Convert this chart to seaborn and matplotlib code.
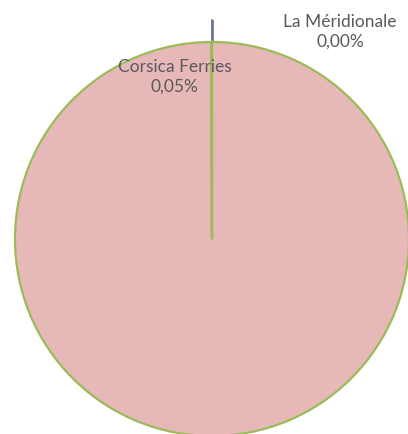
import matplotlib
matplotlib.use("Agg")
import matplotlib.pyplot as plt
import seaborn as sns

# slices in drawing order (clockwise from 12 o'clock)
companies = ["La Méridionale", "Autres", "Corsica Ferries"]
shares = [0.0001, 99.9499, 0.05]
share_labels = ["0,00%", "", "0,05%"]
fill_colors = ["#4F81BD", "#E6B9B8", "#C0504D"]

sns.set_theme(style="white")
plt.rcParams['font.family'] = ['Lato', 'DejaVu Sans']

fig = plt.figure(figsize=(4.08, 4.34), dpi=100)
ax = fig.add_axes([0, 0, 1, 1])

wedges, _ = ax.pie(shares, colors=fill_colors, startangle=90, counterclock=False,
                   radius=1.0, center=(0, 0),
                   wedgeprops=dict(edgecolor="#9BBB59", linewidth=1.6))

# leader line of the tiny top slice
ax.plot([0, 0], [1.0, 1.11], color="#4F81BD", linewidth=1.4, zorder=0)
ax.plot([0.004, 0.004], [1.0, 1.11], color="#C0504D", linewidth=0.6, zorder=0)
# slice border from the centre
ax.plot([0, 0], [0, 1.0], color="#9BBB59", linewidth=1.4)

label_pos = {"La Méridionale": (0.650, 1.051), "Corsica Ferries": (-0.190, 0.822)}
for name, lab in zip(companies, share_labels):
    if name in label_pos:
        x, y = label_pos[name]
        ax.text(x, y, f"{name}\n{lab}", ha="center", va="center", fontsize=12.5,
                color="#595959", linespacing=1.3)

ax.set_xlim(-1.076, 0.995)
ax.set_ylim(-0.990, 1.213)
ax.set_aspect("equal")
ax.axis("off")

fig.savefig("out.png", dpi=100)
